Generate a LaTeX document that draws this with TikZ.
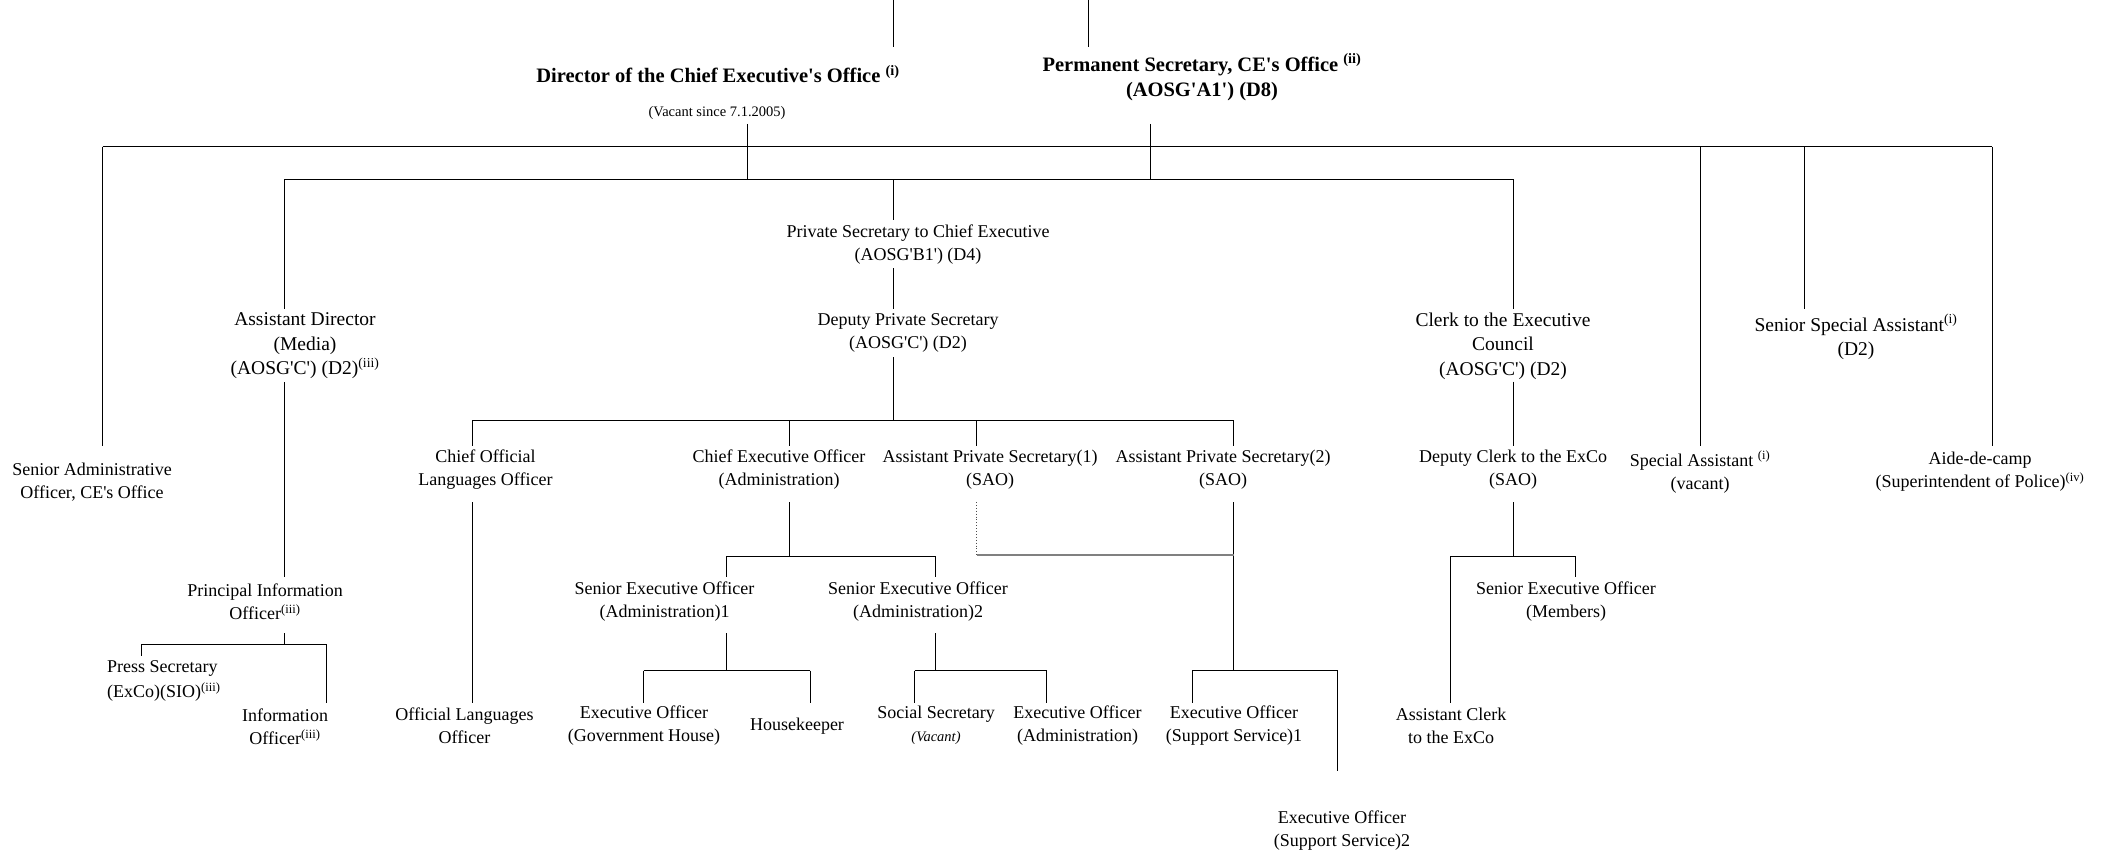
\documentclass[tikz,border=0pt]{standalone}
\usepackage{fontspec}
\setmainfont{Liberation Serif}[Ligatures=TeXOff]
\begin{document}
\begin{tikzpicture}[x=1pt,y=-1pt,
  lbl/.style={align=center, inner sep=0pt, font=\fontsize{18}{23}\selectfont},
  lblbig/.style={align=center, inner sep=0pt, font=\fontsize{19.5}{24.5}\selectfont},
  lbll/.style={align=left, inner sep=0pt, font=\fontsize{18}{25}\selectfont},
  head/.style={align=center, inner sep=0pt, font=\fontsize{20.5}{25}\selectfont\bfseries},
  smalltxt/.style={inner sep=0pt, font=\fontsize{14.5}{17}\selectfont},
  vln/.style={line width=1pt, black},
  hln/.style={line width=1pt, black},
  dotln/.style={dotted, line width=0.9pt, black!70},
  grayln/.style={line width=1.5pt, black!50}]
\useasboundingbox (0,0) rectangle (2103,853);

% ---------- nodes ----------
\node[head] (dir) at (718,74) {Director of the Chief Executive's Office \textsuperscript{(i)}};
\node[smalltxt] (vac) at (717,113) {(Vacant since 7.1.2005)};
\node[head] (ps) at (1202,77) {Permanent Secretary, CE's Office \textsuperscript{(ii)}\\(AOSG'A1') (D8)};

\node[lbl] (psce) at (918,245) {Private Secretary to Chief Executive\\(AOSG'B1') (D4)};
\node[lbl] (dps) at (908,333) {Deputy Private Secretary\\(AOSG'C') (D2)};
\node[lblbig] (ad) at (305,346) {Assistant Director\\(Media)\\(AOSG'C') (D2)\textsuperscript{(iii)}};
\node[lblbig] (clerk) at (1503,346) {Clerk to the Executive\\Council\\(AOSG'C') (D2)};
\node[lblbig] (ssa) at (1856,337) {Senior Special Assistant\textsuperscript{(i)}\\(D2)};

\node[lbl] (sao) at (92,482) {Senior Administrative\\Officer, CE's Office};
\node[lbl] (cslo) at (485.5,469.5) {Chief Official\\Languages Officer};
\node[lbl] (ceo) at (779,469.5) {Chief Executive Officer\\(Administration)};
\node[lbl] (aps1) at (990,469.5) {Assistant Private Secretary(1)\\(SAO)};
\node[lbl] (aps2) at (1223,469.5) {Assistant Private Secretary(2)\\(SAO)};
\node[lbl] (dc) at (1513,469.5) {Deputy Clerk to the ExCo\\(SAO)};
\node[lbl] (sa) at (1700,472) {Special Assistant \textsuperscript{(i)}\\(vacant)};
\node[lbl] (adc) at (1980,472) {Aide-de-camp\\(Superintendent of Police)\textsuperscript{(iv)}};

\node[lbl] (pio) at (265,602) {Principal Information\\Officer\textsuperscript{(iii)}};
\node[lbll, anchor=west] (press) at (107,681) {Press Secretary\\(ExCo)(SIO)\textsuperscript{(iii)}};
\node[lbl] (io) at (285,727) {Information\\Officer\textsuperscript{(iii)}};
\node[lbl] (olo) at (464.5,726) {Official Languages\\Officer};
\node[lbl] (seo1) at (664.5,601.5) {Senior Executive Officer\\(Administration)1};
\node[lbl] (seo2) at (918,601.5) {Senior Executive Officer\\(Administration)2};
\node[lbl] (eogh) at (644,726) {Executive Officer\\(Government House)};
\node[lbl] (hk) at (797,726) {Housekeeper};
\node[lbl] (ss) at (936,725) {Social Secretary\\{\fontsize{14.5}{17}\selectfont\itshape (Vacant)}};
\node[lbl] (eoa) at (1077.5,726) {Executive Officer\\(Administration)};
\node[lbl] (eoss1) at (1234,726) {Executive Officer\\(Support Service)1};
\node[lbl] (eoss2) at (1342,831) {Executive Officer\\(Support Service)2};
\node[lbl] (seom) at (1566,601.5) {Senior Executive Officer\\(Members)};
\node[lbl] (ac) at (1451,726) {Assistant Clerk\\to the ExCo};

% ---------- junction coordinates ----------
\coordinate (topA1) at (893,0);   \coordinate (topA2) at (893,47);
\coordinate (topB1) at (1088,0);  \coordinate (topB2) at (1088,47);
\coordinate (dirD) at (747.5,124); \coordinate (dirE) at (747.5,179.3);
\coordinate (psD) at (1150,124);   \coordinate (psE) at (1150,179.3);
\coordinate (b1L) at (102.5,146.7); \coordinate (b1R) at (1992,146.7);
\coordinate (b2L) at (284.6,179.3); \coordinate (b2R) at (1513.5,179.3);
\coordinate (saoT) at (102.5,446);
\coordinate (saA) at (1700,146.7);  \coordinate (saT) at (1700,446);
\coordinate (ssaA) at (1804,146.7); \coordinate (ssaT) at (1804,309);
\coordinate (adcT) at (1992,446);
\coordinate (adT) at (284.6,309);
\coordinate (psceA) at (893.4,179.3); \coordinate (psceT) at (893.4,220);
\coordinate (clerkT) at (1513.5,309);
\coordinate (psceB) at (893.4,268);  \coordinate (dpsT) at (893.4,309);
\coordinate (dpsB) at (893.4,357);   \coordinate (b3M) at (893.4,420);
\coordinate (b3L) at (472.8,420);    \coordinate (b3R) at (1233.5,420);
\coordinate (csloT) at (472.8,446);
\coordinate (ceoA) at (789,420);   \coordinate (ceoT) at (789,446);
\coordinate (aps1A) at (976.5,420); \coordinate (aps1T) at (976.5,446);
\coordinate (aps2T) at (1233.5,446);
\coordinate (clerkB) at (1513.5,381.7); \coordinate (dcT) at (1513.5,446);
\coordinate (adB) at (284.6,382);  \coordinate (pioT) at (284.6,577);
\coordinate (pioB) at (284.6,633); \coordinate (pioJ) at (284.6,644);
\coordinate (pbL) at (141,644);    \coordinate (pbR) at (326,644);
\coordinate (pressT) at (141,655.7); \coordinate (ioT) at (326,703);
\coordinate (csloB) at (472.8,502); \coordinate (oloT) at (472.8,703);
\coordinate (ceoB) at (789,502);    \coordinate (ceoJ) at (789,556);
\coordinate (cbL) at (726.6,556);   \coordinate (cbR) at (935,556);
\coordinate (seo1T) at (726.6,577); \coordinate (seo2T) at (935,577);
\coordinate (seo1B) at (726.6,633); \coordinate (seo1J) at (726.6,670.7);
\coordinate (s1L) at (643.6,670.7); \coordinate (s1R) at (810.3,670.7);
\coordinate (eoghT) at (643.6,703); \coordinate (hkT) at (810.3,703);
\coordinate (seo2B) at (935,633);   \coordinate (seo2J) at (935,670.7);
\coordinate (s2L) at (914.8,670.7); \coordinate (s2R) at (1046.6,670.7);
\coordinate (ssT) at (914.8,703);   \coordinate (eoaT) at (1046.6,703);
\coordinate (aps1B) at (976.5,502); \coordinate (aps1C) at (976.5,555);
\coordinate (aps2C) at (1233.5,555);
\coordinate (aps2B) at (1233.5,502); \coordinate (aps2J) at (1233.5,670);
\coordinate (a2L) at (1192,670);    \coordinate (a2R) at (1337,670);
\coordinate (eoss1T) at (1192,703); \coordinate (eoss2T) at (1337,770.7);
\coordinate (dcB) at (1513.5,502);  \coordinate (dcJ) at (1513.5,556);
\coordinate (dbL) at (1450,556);    \coordinate (dbR) at (1575.4,556);
\coordinate (seomT) at (1575.4,577); \coordinate (acT) at (1450,703);

% ---------- vertical connectors ----------
\draw[vln] (topA1) -- (topA2);
\draw[vln] (topB1) -- (topB2);
\draw[vln] (dirD) -- (dirE);
\draw[vln] (psD) -- (psE);
\draw[vln] (b1L) -- (saoT);
\draw[vln] (saA) -- (saT);
\draw[vln] (ssaA) -- (ssaT);
\draw[vln] (b1R) -- (adcT);
\draw[vln] (b2L) -- (adT);
\draw[vln] (psceA) -- (psceT);
\draw[vln] (b2R) -- (clerkT);
\draw[vln] (psceB) -- (dpsT);
\draw[vln] (dpsB) -- (b3M);
\draw[vln] (b3L) -- (csloT);
\draw[vln] (ceoA) -- (ceoT);
\draw[vln] (aps1A) -- (aps1T);
\draw[vln] (b3R) -- (aps2T);
\draw[vln] (clerkB) -- (dcT);
\draw[vln] (adB) -- (pioT);
\draw[vln] (pioB) -- (pioJ);
\draw[vln] (pbL) -- (pressT);
\draw[vln] (pbR) -- (ioT);
\draw[vln] (csloB) -- (oloT);
\draw[vln] (ceoB) -- (ceoJ);
\draw[vln] (cbL) -- (seo1T);
\draw[vln] (cbR) -- (seo2T);
\draw[vln] (seo1B) -- (seo1J);
\draw[vln] (s1L) -- (eoghT);
\draw[vln] (s1R) -- (hkT);
\draw[vln] (seo2B) -- (seo2J);
\draw[vln] (s2L) -- (ssT);
\draw[vln] (s2R) -- (eoaT);
\draw[vln] (aps2B) -- (aps2J);
\draw[vln] (a2L) -- (eoss1T);
\draw[vln] (a2R) -- (eoss2T);
\draw[vln] (dcB) -- (dcJ);
\draw[vln] (dbR) -- (seomT);
\draw[vln] (dbL) -- (acT);
\draw[dotln] (aps1B) -- (aps1C);

% ---------- horizontal bars ----------
\draw[hln] (b1L) -- (b1R);
\draw[hln] (b2L) -- (b2R);
\draw[hln] (b3L) -- (b3R);
\draw[hln] (pbL) -- (pbR);
\draw[hln] (cbL) -- (cbR);
\draw[hln] (s1L) -- (s1R);
\draw[hln] (s2L) -- (s2R);
\draw[hln] (a2L) -- (a2R);
\draw[hln] (dbL) -- (dbR);
\draw[grayln] (aps1C) -- (aps2C);
\end{tikzpicture}
\end{document}
